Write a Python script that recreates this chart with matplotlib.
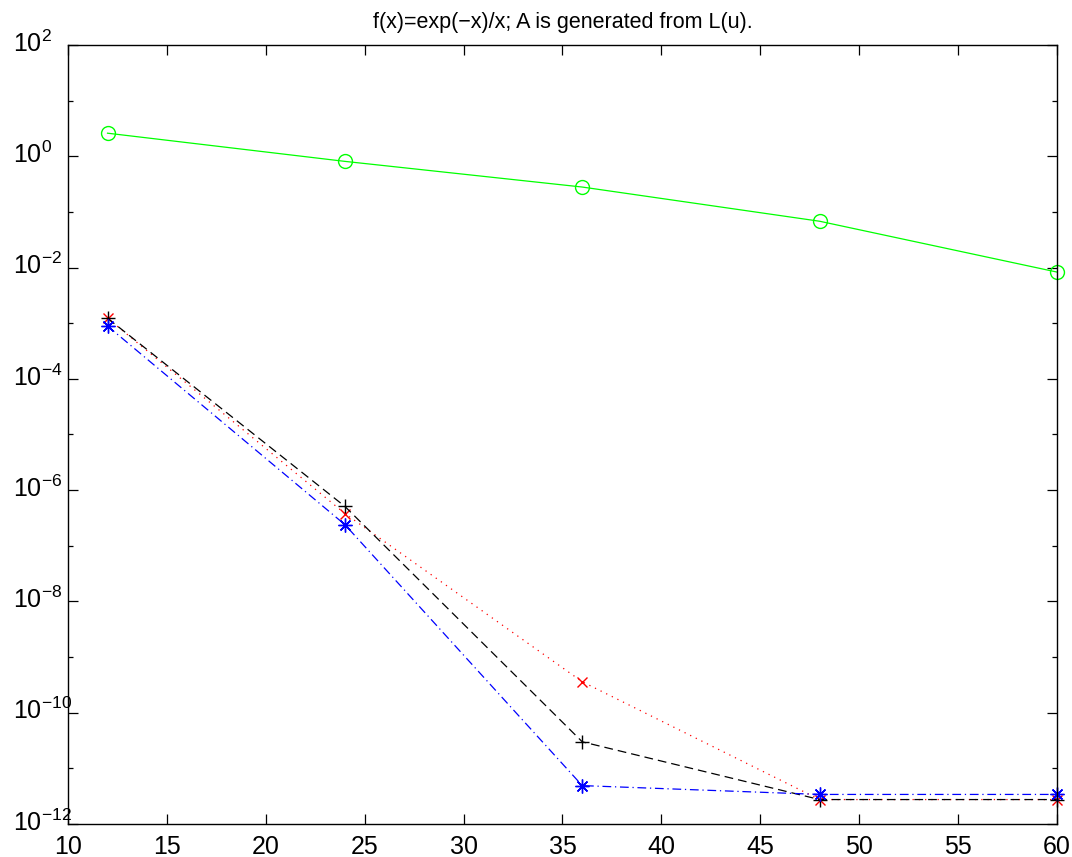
import matplotlib
matplotlib.use('Agg')
import matplotlib.pyplot as plt
import matplotlib.ticker as ticker
import matplotlib.transforms as mtransforms
import numpy as np

matplotlib.rcParams['font.family'] = ['Liberation Sans', 'DejaVu Sans']
matplotlib.rcParams['axes.unicode_minus'] = True

# 데이터
n = [12, 24, 36, 48, 60]
err_green = [2.6, 0.81, 0.28, 0.068, 0.0083]
err_red = [1.23e-3, 3.8e-7, 3.6e-10, 2.75e-12, 2.75e-12]
err_black = [1.23e-3, 5.1e-7, 3.0e-11, 2.75e-12, 2.75e-12]
err_blue = [8.9e-4, 2.4e-7, 4.9e-12, 3.4e-12, 3.4e-12]

fig = plt.figure(figsize=(10.72, 8.57), dpi=100)
ax = fig.add_axes([0.0634, 0.0385, 0.9226, 0.909])

ax.semilogy(n, err_green, color='#00ff00', marker='o', markersize=10, mfc='none', lw=0.9, clip_on=False)
ax.semilogy(n, err_red, color='red', marker='x', markersize=7, ls=(0, (1, 4)), lw=0.9, clip_on=False)
ax.semilogy(n, err_black, color='black', marker='+', markersize=10, ls=(0, (7, 4)), lw=0.9, clip_on=False)
ax.semilogy(n, err_blue, color='blue', marker=(8, 2, 0), markersize=10, mew=1.0,
            ls=(0, (7, 3, 1, 3)), lw=0.9, clip_on=False)

ax.set_xlim(10, 60)
ax.set_ylim(1e-12, 1e2)
ax.set_xticks(range(10, 61, 5))

major = [10.0**k for k in range(-12, 3, 2)]
minor = [10.0**k for k in range(-11, 2, 2)]
ax.yaxis.set_major_locator(ticker.FixedLocator(major))
ax.yaxis.set_minor_locator(ticker.FixedLocator(minor))
ax.yaxis.set_major_formatter(ticker.FuncFormatter(
    lambda v, p: r'$\mathregular{10^{%d}}$' % int(round(np.log10(v)))))
ax.yaxis.set_minor_formatter(ticker.NullFormatter())

ax.tick_params(which='both', direction='in', top=True, right=True, labelsize=18, width=0.9)
ax.tick_params(which='major', length=7)
ax.tick_params(which='minor', length=3.5)
ax.tick_params(axis='x', pad=8)
ax.tick_params(axis='y', pad=39.6)
shift = mtransforms.ScaledTranslation(0, 4 / 100, fig.dpi_scale_trans)
for lb in ax.get_yticklabels():
    lb.set_horizontalalignment('left')
    lb.set_transform(lb.get_transform() + shift)
for s in ax.spines.values():
    s.set_linewidth(1.0)

ax.set_title('f(x)=exp(\u2212x)/x; A is generated from L(u).', fontsize=15.5, pad=12)

plt.savefig('out.png', dpi=100)
